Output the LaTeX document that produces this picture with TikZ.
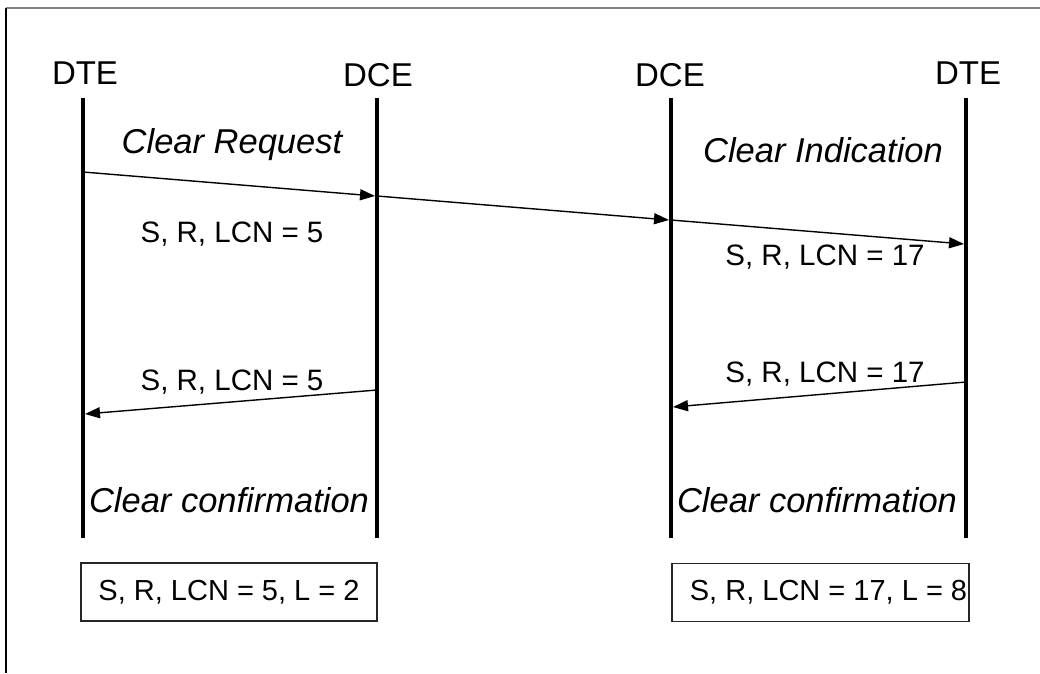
\documentclass[tikz,border=0pt]{standalone}
\usepackage{fontspec}
\setmainfont{Liberation Sans}
\usetikzlibrary{arrows.meta}
\begin{document}
\begin{tikzpicture}[x=1pt,y=-1pt,
  lifeline/.style={line width=4pt},
  msg/.style={line width=1.4pt,-{Triangle[length=15pt,width=11pt]}},
  party/.style={anchor=base,font=\fontsize{33}{39}\selectfont},
  cmd/.style={anchor=base,font=\fontsize{34.5}{41}\selectfont\itshape},
  param/.style={anchor=base,font=\fontsize{29.5}{35}\selectfont},
  parambox/.style={draw=black!85,line width=1.3pt,minimum width=296pt,minimum height=58pt,inner sep=0pt,font=\fontsize{29}{35}\selectfont}]
\useasboundingbox (0,0) rectangle (1040,673);
% frame lines
\draw[gray,line width=2pt] (6,8) -- (1040,8);
\draw[black,line width=1.5pt] (6,8) -- (6,673);
% parties
\node[party] (dte1) at (85,84.5) {DTE};
\node[party] (dce1) at (378,86.5) {DCE};
\node[party] (dce2) at (670,86.5) {DCE};
\node[party] (dte2) at (968,84.5) {DTE};
% lifelines
\coordinate (l1t) at (83,98);  \coordinate (l1b) at (83,538);
\coordinate (l2t) at (377,98); \coordinate (l2b) at (377,538);
\coordinate (l3t) at (671,98); \coordinate (l3b) at (671,538);
\coordinate (l4t) at (966,98); \coordinate (l4b) at (966,538);
\draw[lifeline] (l1t) -- (l1b);
\draw[lifeline] (l2t) -- (l2b);
\draw[lifeline] (l3t) -- (l3b);
\draw[lifeline] (l4t) -- (l4b);
% message points
\coordinate (p1) at (83,172);
\coordinate (p2) at (375,196);
\coordinate (p2s) at (377,196);
\coordinate (p3) at (669,220);
\coordinate (p3s) at (671,220);
\coordinate (p4) at (964,244);
\coordinate (q1) at (377,390);
\coordinate (q2) at (85,414);
\coordinate (r1) at (966,382);
\coordinate (r2) at (673,407);
\draw[msg] (p1) -- (p2);
\draw[msg] (p2s) -- (p3);
\draw[msg] (p3s) -- (p4);
\draw[msg] (q1) -- (q2);
\draw[msg] (r1) -- (r2);
% labels
\node[cmd] (creq) at (232,153) {Clear Request};
\node[cmd] (cind) at (823,162) {Clear Indication};
\node[param] (pa) at (232,242) {S, R, LCN = 5};
\node[param] (pb) at (825,265) {S, R, LCN = 17};
\node[param] (pc) at (232,390) {S, R, LCN = 5};
\node[param] (pd) at (825,382) {S, R, LCN = 17};
\node[cmd] (cc1) at (229,512) {Clear confirmation};
\node[cmd] (cc2) at (817,512) {Clear confirmation};
% boxes
\node[parambox] (box1) at (229,592) {S, R, LCN = 5, L = 2};
\node[parambox,minimum width=297pt] (box2) at (820.5,592.5) {\hspace*{16pt}S, R, LCN = 17, L = 8};
\end{tikzpicture}
\end{document}
